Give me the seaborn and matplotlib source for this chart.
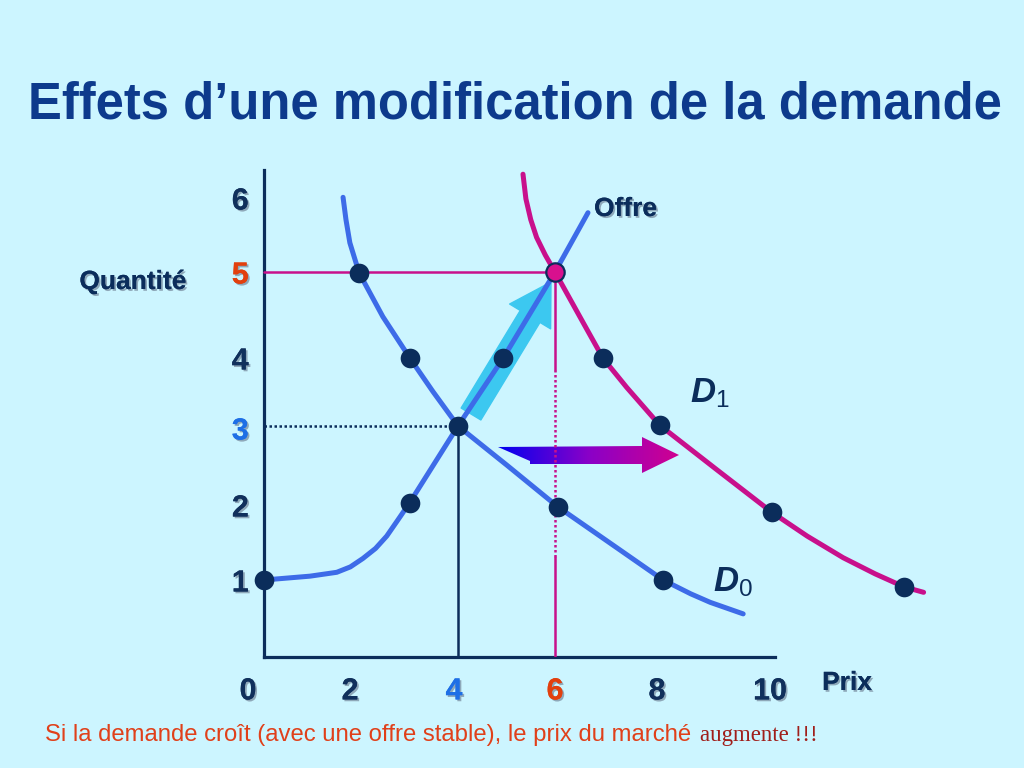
import matplotlib
matplotlib.use('Agg')
import matplotlib.pyplot as plt
import matplotlib.patheffects as pe
from matplotlib.colors import LinearSegmentedColormap
from matplotlib.patches import Polygon
import numpy as np
import seaborn as sns

# Curves (x = prix, y = quantite)
offre_x = [0, 0.95, 1.5, 1.78, 2.04, 2.3, 2.53, 2.75, 3.0, 4.0, 4.93, 6.0, 6.68]
offre_y = [1.0, 1.05, 1.1, 1.17, 1.28, 1.41, 1.57, 1.77, 2.0, 3.0, 3.88, 5.0, 5.77]
d0_x = [1.63, 1.69, 1.77, 1.96, 2.45, 3.01, 3.48, 4.0, 5.01, 6.06, 7.34, 8.23, 8.8, 9.2, 9.88]
d0_y = [5.97, 5.68, 5.38, 4.99, 4.42, 3.88, 3.45, 3.0, 2.49, 1.95, 1.39, 1.0, 0.82, 0.71, 0.56]
d1_x = [5.34, 5.4, 5.5, 5.62, 5.8, 6.0, 6.3, 6.6, 6.99, 7.48, 8.16, 9.3, 10.47, 11.2, 11.94, 12.6, 13.2, 13.6]
d1_y = [6.27, 5.95, 5.68, 5.45, 5.22, 5.0, 4.66, 4.32, 3.88, 3.5, 3.01, 2.45, 1.88, 1.57, 1.29, 1.08, 0.91, 0.84]

# Marked points
offre_pts_x = [0, 3.0, 4.93]
offre_pts_y = [1.0, 2.0, 3.88]
d0_pts_x = [1.96, 3.01, 6.06, 8.23]
d0_pts_y = [4.99, 3.88, 1.95, 1.0]
d1_pts_x = [6.99, 8.16, 10.47, 13.2]
d1_pts_y = [3.88, 3.01, 1.88, 0.91]
eq0 = (4, 3)   # old equilibrium (prix, quantite)
eq1 = (6, 5)   # new equilibrium

# Tick labels
x_tick_labels = ['0', '2', '4', '6', '8', '10']
y_tick_labels = ['1', '2', '3', '4', '5', '6']

BG = '#CCF5FF'
NAVY = '#0B2D5B'
BLUE = '#3D6BE8'
PINK = '#C8108C'
TICK_NAVY = '#10305C'
TICK_BLUE = '#1E6FE6'
TICK_RED = '#E2400E'

sns.set_theme(style='white')
plt.rcParams['font.family'] = ['Liberation Sans', 'DejaVu Sans']
plt.rcParams['mathtext.fontset'] = 'custom'
plt.rcParams['mathtext.it'] = 'Liberation Sans:italic:bold'
plt.rcParams['mathtext.rm'] = 'Liberation Sans'

fig = plt.figure(figsize=(10.24, 7.68), dpi=100, facecolor=BG)
# axis origin at pixel (264, 657), 48.5 px per prix unit, 77 px per quantity unit
XMIN, XMAX, YMIN, YMAX = -0.6, 14, 0, 6.5
ax = fig.add_axes([(264 + XMIN * 48.5) / 1024, 111 / 768,
                   (XMAX - XMIN) * 48.5 / 1024, (YMAX - YMIN) * 77 / 768])
ax.set_facecolor('none')


def px(x, y):
    # pixel position -> data position (layout helper for arrows and labels)
    return (x - 264) / 48.5, (657 - y) / 77


shadow = [pe.withSimplePatchShadow(offset=(1.3, -1.3), shadow_rgbFace='#7F95A8', alpha=0.8), pe.Normal()]

# curves
line_kw = dict(sort=False, estimator=None, lw=3.6, ax=ax, zorder=4)
sns.lineplot(x=offre_x, y=offre_y, color=BLUE, **line_kw)
sns.lineplot(x=d0_x, y=d0_y, color=BLUE, **line_kw)
sns.lineplot(x=d1_x, y=d1_y, color=PINK, **line_kw)
for ln in ax.lines:
    ln.set_solid_joinstyle('round')

# guide lines to the equilibria
ax.plot([0, eq1[0]], [eq1[1], eq1[1]], color=PINK, lw=1.8, zorder=3)
ax.plot([eq1[0], eq1[0]], [0, 1.3], color=PINK, lw=1.8, zorder=3)
ax.plot([eq1[0], eq1[0]], [1.3, 3.73], color=PINK, lw=1.8, ls=(0, (1, 1)), zorder=3)
ax.plot([eq1[0], eq1[0]], [3.73, eq1[1]], color=PINK, lw=1.8, zorder=3)
ax.plot([0, eq0[0]], [eq0[1], eq0[1]], color=NAVY, lw=1.8, ls=(0, (1, 1)), zorder=3)
ax.plot([eq0[0], eq0[0]], [0, eq0[1]], color=NAVY, lw=1.8, zorder=3)

# movement along the supply curve
ax.annotate('', xy=px(551, 282), xytext=px(471, 414),
            arrowprops=dict(arrowstyle='simple,head_length=29,head_width=34.5,tail_width=16.6',
                            mutation_scale=1, color='#3CC8F0', shrinkA=0, shrinkB=0),
            zorder=2)

# demand shift arrow with blue -> magenta gradient
shape_px = [(498, 447), (642, 446), (642, 437), (679, 455), (642, 473), (642, 464), (530, 464), (530, 461)]
poly = Polygon([px(a, b) for a, b in shape_px], closed=True, facecolor='none', edgecolor='none')
ax.add_patch(poly)
x0, y0 = px(498, 473)
x1, y1 = px(679, 437)
grad = np.linspace(0, 1, 256).reshape(1, -1)
cmap = LinearSegmentedColormap.from_list('shift', ['#0000F0', '#8A00C8', '#D00090'])
img = ax.imshow(grad, extent=(x0, x1, y0, y1), cmap=cmap, aspect='auto', zorder=2, interpolation='bilinear')
img.set_clip_path(poly)

# points
sns.scatterplot(x=offre_pts_x + d0_pts_x + d1_pts_x + [eq0[0]],
                y=offre_pts_y + d0_pts_y + d1_pts_y + [eq0[1]],
                s=200, color=NAVY, edgecolor=NAVY, linewidth=0, ax=ax, zorder=6, clip_on=False)
ax.scatter([eq1[0]], [eq1[1]], s=175, color='#D8108E', edgecolor=NAVY, linewidth=1.6, zorder=7)

# axes
for side in ['top', 'right']:
    ax.spines[side].set_visible(False)
for side in ['left', 'bottom']:
    ax.spines[side].set_color(NAVY)
    ax.spines[side].set_linewidth(2.3)
ax.spines['left'].set_position(('data', 0))
ax.spines['left'].set_bounds(0, 6.32)
ax.spines['bottom'].set_bounds(0, 10.54)

# tick labels sit where they are drawn on the slide
ax.set_xticks([px(p, 0)[0] for p in [248, 350, 454, 555, 657, 770]])
ax.set_xticklabels(x_tick_labels)
ax.set_yticks([px(0, p)[1] for p in [580, 505, 428, 358, 272, 198]])
ax.set_yticklabels(y_tick_labels)
ax.set_xlim(XMIN, XMAX)
ax.set_ylim(YMIN, YMAX)
ax.tick_params(axis='x', length=0, pad=14, labelsize=22)
ax.tick_params(axis='y', length=0, pad=11, labelsize=22)
x_cols = [TICK_NAVY, TICK_NAVY, TICK_BLUE, TICK_RED, TICK_NAVY, TICK_NAVY]
y_cols = [TICK_NAVY, TICK_NAVY, TICK_BLUE, TICK_NAVY, TICK_RED, TICK_NAVY]
for lbl, c in zip(ax.get_xticklabels(), x_cols):
    lbl.set_color(c)
    lbl.set_fontweight('bold')
    lbl.set_path_effects(shadow)
for lbl, c in zip(ax.get_yticklabels(), y_cols):
    lbl.set_color(c)
    lbl.set_fontweight('bold')
    lbl.set_path_effects(shadow)

# curve labels
ax.text(*px(594, 216), 'Offre', fontsize=19, fontweight='bold', color=NAVY,
        ha='left', va='baseline', path_effects=shadow)
ax.text(*px(690, 402), r'$D_1$', fontsize=25, color=NAVY, ha='left', va='baseline')
ax.text(*px(713, 591), r'$D_0$', fontsize=25, color=NAVY, ha='left', va='baseline')

# titles and captions
fig.text(515 / 1024, 1 - 105 / 768, 'Effets d\u2019une modification de la demande',
         fontsize=36.5, fontweight='bold', color='#0D3A8C', ha='center', va='center')
fig.text(133 / 1024, 1 - 282 / 768, 'Quantité', fontsize=19, fontweight='bold', color=NAVY,
         ha='center', va='center', path_effects=shadow)
fig.text(847 / 1024, 1 - 683 / 768, 'Prix', fontsize=19, fontweight='bold', color=NAVY,
         ha='center', va='center', path_effects=shadow)
fig.text(45 / 1024, 1 - 741 / 768, 'Si la demande croît (avec une offre stable), le prix du marché',
         fontsize=17.2, color='#E0401A', ha='left', va='baseline')
fig.text(700 / 1024, 1 - 741 / 768, 'augmente !!!', fontsize=16.5, color='#A01E1A',
         family=['Liberation Serif', 'DejaVu Serif'], ha='left', va='baseline')

fig.savefig('out.png', dpi=100, facecolor=BG)
